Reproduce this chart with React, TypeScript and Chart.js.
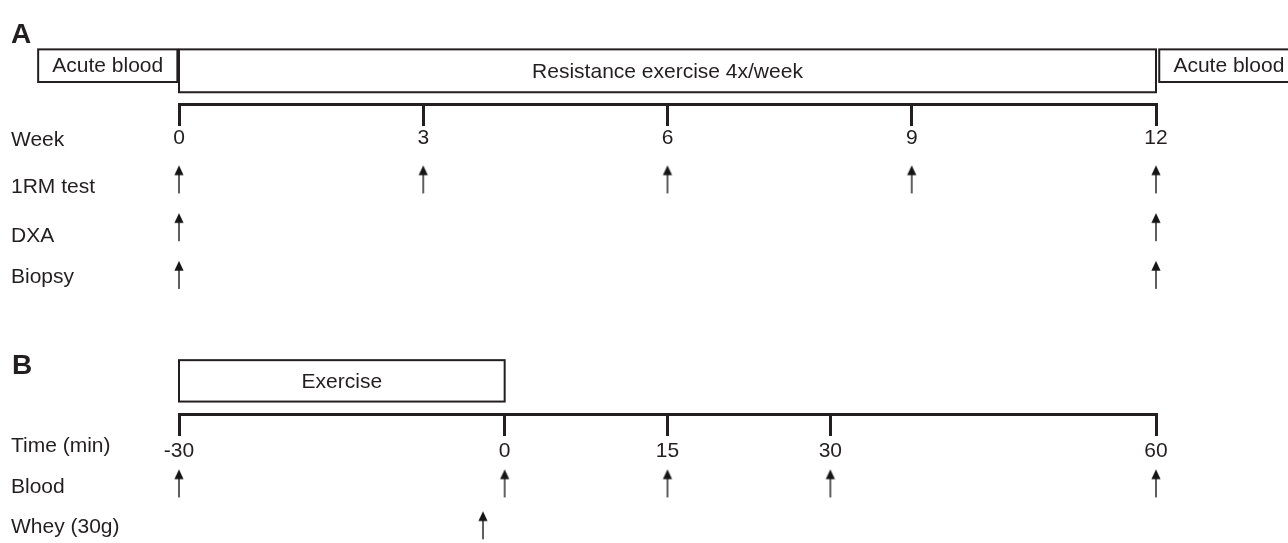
import React, { useEffect, useRef } from 'react';
import { Chart, registerables } from 'chart.js';

Chart.register(...registerables);

// ---------- data ----------
const weekTicks = [0, 3, 6, 9, 12];
const oneRmWeeks = [0, 3, 6, 9, 12];
const dxaWeeks = [0, 12];
const biopsyWeeks = [0, 12];

const timeTicks = [-30, 0, 15, 30, 60];
const bloodMinutes = [-30, 0, 15, 30, 60];
const wheyMinutes = [-2];

const phaseLabelsA = ['Acute blood', 'Resistance exercise 4x/week', 'Acute blood'];
const phaseStartA = [-1.73, 0, 12.04];
const phaseEndA = [-0.02, 12, 13.75];

const phaseLabelsB = ['Exercise'];
const phaseStartB = [-30];
const phaseEndB = [0];

const rowLabelsA = ['Week', '1RM test', 'DXA', 'Biopsy'];
const rowLabelsB = ['Time (min)', 'Blood', 'Whey (30g)'];
const panelLabels = ['A', 'B'];

// ---------- layout / style (not data) ----------
const W = 1288;
const H = 543;
const INK = '#231f20';
const FAMILY = '"Liberation Sans", Arial, Helvetica, sans-serif';
const ROW = { axisA: 100, oneRM: 177, dxa: 226, biopsy: 275, axisB: 418.5, blood: 489, whey: 532 };
const LABEL_BASE_A = [143, 191, 241, 283];
const LABEL_BASE_B = [457, 499, 540];
const PANEL_BASE = [37, 377];
const BOX_A: [number, number][] = [[43.5, 77], [43.5, 87.5], [43.5, 77]];
const BOX_B: [number, number][] = [[362.5, 405]];

function makeArrow(): HTMLCanvasElement {
  const c = document.createElement('canvas');
  c.width = 12;
  c.height = 30;
  const g = c.getContext('2d')!;
  g.strokeStyle = '#444';
  g.lineWidth = 1.7;
  g.beginPath();
  g.moveTo(6, 9);
  g.lineTo(6, 29);
  g.stroke();
  g.fillStyle = '#151515';
  g.beginPath();
  g.moveTo(6, 1);
  g.lineTo(10.6, 10.8);
  g.lineTo(1.4, 10.8);
  g.closePath();
  g.fill();
  return c;
}

const designPlugin = {
  id: 'studyDesign',
  afterDraw(chart: any) {
    const ctx = chart.ctx as CanvasRenderingContext2D;
    const xA = chart.scales.xA;
    const xB = chart.scales.xB;
    const y = chart.scales.y;
    ctx.save();
    ctx.fillStyle = INK;
    ctx.strokeStyle = INK;

    // panel letters
    ctx.font = `bold 28px ${FAMILY}`;
    ctx.textAlign = 'left';
    ctx.textBaseline = 'alphabetic';
    ctx.fillText(panelLabels[0], 11, y.getPixelForValue(PANEL_BASE[0]));
    ctx.fillText(panelLabels[1], 12, y.getPixelForValue(PANEL_BASE[1]));

    // row labels
    ctx.font = `21px ${FAMILY}`;
    rowLabelsA.forEach((t, i) => ctx.fillText(t, 11, y.getPixelForValue(LABEL_BASE_A[i])));
    rowLabelsB.forEach((t, i) => ctx.fillText(t, 11, y.getPixelForValue(LABEL_BASE_B[i])));

    // phase boxes
    const drawBox = (scale: any, s: number, e: number, rows: [number, number], label: string) => {
      const x1 = scale.getPixelForValue(s);
      const x2 = scale.getPixelForValue(e);
      const y1 = y.getPixelForValue(rows[0]);
      const y2 = y.getPixelForValue(rows[1]);
      ctx.lineWidth = 2;
      ctx.strokeRect(x1, y1, x2 - x1, y2 - y1);
      ctx.textAlign = 'center';
      ctx.textBaseline = 'middle';
      ctx.fillText(label, (x1 + x2) / 2, (y1 + y2) / 2 + 1);
    };
    phaseLabelsA.forEach((l, i) => drawBox(xA, phaseStartA[i], phaseEndA[i], BOX_A[i], l));
    phaseLabelsB.forEach((l, i) => drawBox(xB, phaseStartB[i], phaseEndB[i], BOX_B[i], l));
    ctx.restore();
  },
};

export default function App() {
  const ref = useRef<HTMLCanvasElement | null>(null);

  useEffect(() => {
    if (!ref.current) return;
    const arrow = makeArrow();
    const pts = (xs: number[], row: number) => xs.map((x) => ({ x, y: row }));
    const arrowDs = (label: string, xAxisID: string, data: any[]) => ({
      label,
      xAxisID,
      yAxisID: 'y',
      data,
      pointStyle: arrow,
      pointRadius: 6,
      clip: false,
      showLine: false,
    });
    const axisCommon = (ticksValues: number[], padding: number) => ({
      type: 'linear',
      axis: 'x',
      afterBuildTicks: (s: any) => {
        s.ticks = ticksValues.map((v) => ({ value: v }));
      },
      grid: { drawOnChartArea: false, drawTicks: true, tickLength: 20, lineWidth: 3, color: INK },
      border: { display: true, width: 3, color: INK },
      ticks: {
        color: INK,
        font: { size: 21, family: FAMILY },
        padding,
        maxRotation: 0,
        autoSkip: false,
        callback: (v: any) => String(v),
      },
    });

    const chart = new Chart(ref.current, {
      type: 'scatter',
      data: {
        datasets: [
          arrowDs('1RM test', 'xA', pts(oneRmWeeks, ROW.oneRM)),
          arrowDs('DXA', 'xA', pts(dxaWeeks, ROW.dxa)),
          arrowDs('Biopsy', 'xA', pts(biopsyWeeks, ROW.biopsy)),
          arrowDs('Blood', 'xB', pts(bloodMinutes, ROW.blood)),
          arrowDs('Whey (30g)', 'xB', pts(wheyMinutes, ROW.whey)),
        ] as any,
      },
      options: {
        animation: false,
        responsive: true,
        maintainAspectRatio: false,
        events: [],
        layout: { padding: { left: 179, right: W - 1156, top: 0, bottom: 0 } },
        plugins: { legend: { display: false }, tooltip: { enabled: false } },
        scales: {
          y: { type: 'linear', min: 0, max: H, reverse: true, display: false },
          xA: { ...axisCommon(weekTicks, 1), min: 0, max: 12, position: { y: ROW.axisA } },
          xB: { ...axisCommon(timeTicks, 4), min: -30, max: 60, position: { y: ROW.axisB } },
        } as any,
      },
      plugins: [designPlugin],
    });
    return () => chart.destroy();
  }, []);

  return (
    <div style={{ position: 'fixed', left: 0, top: 0, width: W, height: H, background: '#fff' }}>
      <canvas ref={ref} />
    </div>
  );
}
